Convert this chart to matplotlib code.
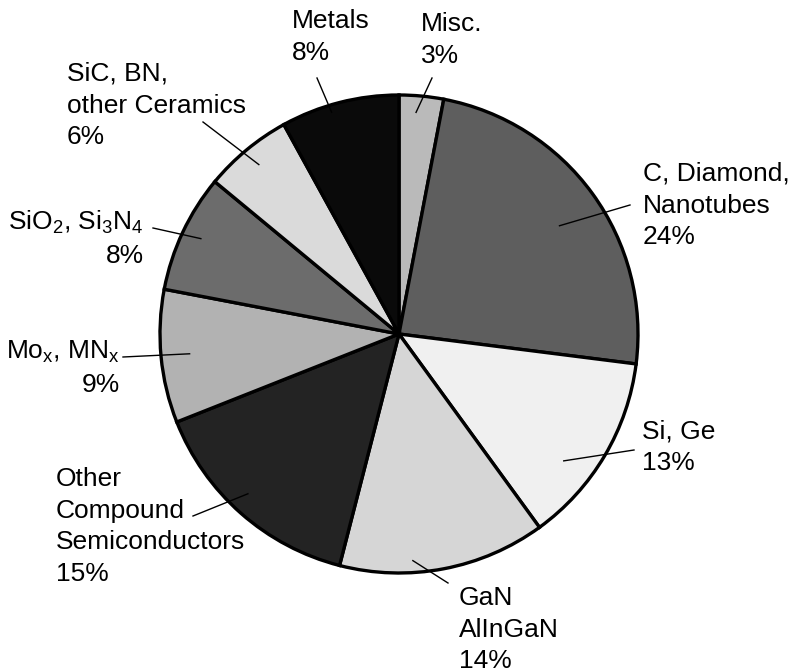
import numpy as np
import matplotlib.pyplot as plt

plt.rcParams['font.family'] = ['Liberation Sans', 'DejaVu Sans']
plt.rcParams['mathtext.fontset'] = 'custom'
plt.rcParams['mathtext.rm'] = 'Liberation Sans'
plt.rcParams['mathtext.it'] = 'Liberation Sans'
plt.rcParams['mathtext.default'] = 'regular'

# shares, clockwise from 12 o'clock
names = ['Misc.', 'C, Diamond,\nNanotubes', 'Si, Ge', 'GaN\nAlInGaN',
         'Other\nCompound\nSemiconductors', 'Mo$_x$, MN$_x$',
         'SiO$_2$, Si$_3$N$_4$', 'SiC, BN,\nother Ceramics', 'Metals']
shares = [3, 24, 13, 14, 15, 9, 8, 6, 8]
greys = ['#bababa', '#5e5e5e', '#f0f0f0', '#d6d6d6', '#232323',
         '#b2b2b2', '#6c6c6c', '#dadada', '#0a0a0a']

W, H = 791, 672
cx, cy, R = 399, H - 334, 239

# label layout: text anchor (px from top-left), alignment, leader tip,
# inner radius fraction, angle shift from wedge middle (deg)
layout = [
    (421, 12, 'left', (432, 78), 0.93, 1.0),
    (643, 162, 'left', (630, 205), 0.81, -2.0),
    (642, 419, 'left', (634, 450), 0.87, -7.0),
    (459, 586, 'left', (448, 583), 0.95, -7.3),
    (56, 467, 'left', (193, 516), 0.92, -2.0),
    (120, 339, 'right', (123, 357), 0.88, 0.0),
    (144, 209, 'right', (153, 228), 0.92, -0.5),
    (67, 62, 'left', (203, 122), 0.92, 0.0),
    (292, 9, 'left', (317, 78), 0.97, 2.5),
]

fig = plt.figure(figsize=(W / 100, H / 100), dpi=100)
ax = fig.add_axes([0, 0, 1, 1])
wedges, _ = ax.pie(shares, colors=greys, startangle=90, counterclock=False,
                   center=(cx, cy), radius=R,
                   wedgeprops=dict(edgecolor='black', linewidth=2.4))

for w, name, val, (tx, ty, ha, tip, rf, shift) in zip(wedges, names, shares, layout):
    mid = np.deg2rad((w.theta1 + w.theta2) / 2 + shift)
    x0 = cx + rf * R * np.cos(mid)
    y0 = cy + rf * R * np.sin(mid)
    ax.plot([x0, tip[0]], [y0, H - tip[1]], color='black', lw=1.0)
    ax.text(tx, H - ty, f'{name}\n{val}%', ha=ha, va='top', multialignment=ha,
            fontsize=19, linespacing=1.4)

ax.set_xlim(0, W)
ax.set_ylim(0, H)
ax.set_aspect('equal')
ax.axis('off')
fig.savefig('out.png', dpi=100)
